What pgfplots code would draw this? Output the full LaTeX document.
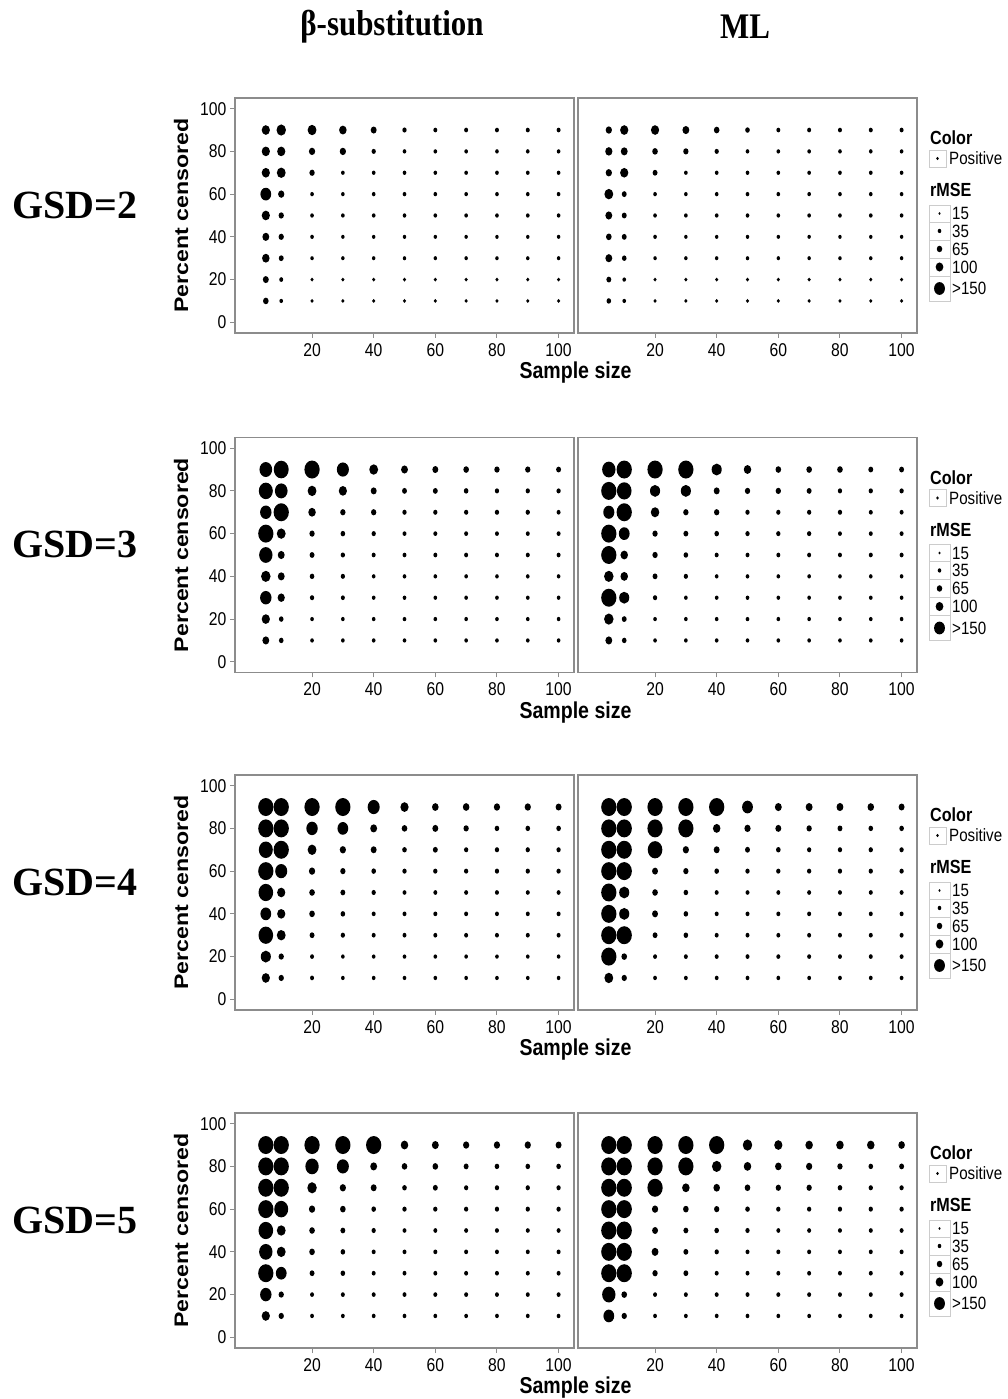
\documentclass[border=0pt]{standalone}
\usepackage{fontspec}
\setmainfont{Liberation Sans}[FakeStretch=0.85]
\newfontfamily\rotsf{Liberation Sans}[FakeStretch=1.18]
\newfontfamily\titlefont{Liberation Serif}[FakeStretch=0.86]
\newfontfamily\gsdfont{Liberation Serif}[FakeStretch=1.0]
\usepackage{pgfplots}
\usepackage{pgfplotstable}
\pgfplotsset{compat=1.18}

\pgfdeclareplotmark{ell}{\pgfpathellipse{\pgfpointorigin}{\pgfqpoint{\pgfplotmarksize}{0pt}}{\pgfqpoint{0pt}{1.18\pgfplotmarksize}}\pgfusepathqfill}

\newcommand\ticksize{\fontsize{18.5}{20}\selectfont}
\newcommand\labfont{\fontsize{23}{25}\selectfont\bfseries}
\newcommand\legtitle{\fontsize{19}{21}\selectfont\bfseries}
\newcommand\legtext{\fontsize{17.8}{19}\selectfont}

% rMSE; rows = percent censored, columns = sample size
\pgfplotstableread{
p  c5  c10 c20 c30 c40 c50 c60 c70 c80 c90 c100
90 108 128 118 97  72  46  41  41  41  41  41
80 108 108 77  77  46  36  36  36  36  36  36
70 108 118 62  36  36  36  36  36  36  36  36
60 149 77  36  36  36  36  36  36  36  36  36
50 108 62  36  36  36  36  36  36  36  36  36
40 87  62  36  33  33  33  33  33  33  33  33
30 97  56  33  33  33  33  33  33  33  33  33
20 72  41  31  31  31  31  31  31  31  31  31
10 67  36  31  31  31  31  31  31  31  31  31
}\tabAa
\pgfplotstableread{
p  c5  c10 c20 c30 c40 c50 c60 c70 c80 c90 c100
90 77  108 108 87  67  51  41  41  41  41  41
80 92  87  67  62  46  36  36  36  36  36  36
70 77  108 56  36  36  36  36  36  36  36  36
60 118 56  36  36  36  36  36  36  36  36  36
50 87  56  36  36  36  36  36  36  36  36  36
40 67  56  36  33  33  33  33  33  33  33  33
30 87  51  33  33  33  33  33  33  33  33  33
20 56  36  31  31  31  31  31  31  31  31  31
10 51  36  31  31  31  31  31  31  31  31  31
}\tabBa
\pgfplotstableread{
p  c5  c10 c20 c30 c40 c50 c60 c70 c80 c90 c100
90 179 215 220 169 118 87  72  67  62  62  56
80 200 179 118 108 72  56  56  51  46  46  46
70 159 220 97  62  62  46  46  46  46  46  41
60 220 118 62  51  46  41  41  41  41  41  41
50 190 87  56  46  41  41  41  41  41  41  41
40 128 87  51  46  36  36  36  36  36  36  36
30 159 92  46  41  36  36  36  36  36  36  36
20 108 51  36  36  36  36  36  36  36  36  36
10 87  51  36  36  36  36  36  36  36  36  36
}\tabAb
\pgfplotstableread{
p  c5  c10 c20 c30 c40 c50 c60 c70 c80 c90 c100
90 190 220 220 220 138 97  67  67  67  56  56
80 220 210 138 138 72  62  62  56  46  46  46
70 154 220 113 62  62  46  46  46  46  41  41
60 220 149 62  56  51  46  46  46  41  41  41
50 220 97  62  51  41  41  41  41  41  41  41
40 128 97  56  46  36  36  36  36  36  36  36
30 220 138 46  36  36  36  36  36  36  36  36
20 128 56  36  36  36  36  36  36  36  36  36
10 87  51  36  36  36  36  36  36  36  36  36
}\tabBb
\pgfplotstableread{
p  c5  c10 c20 c30 c40 c50 c60 c70 c80 c90 c100
90 220 220 220 220 169 108 82  82  77  77  72
80 220 220 159 149 87  67  72  62  51  51  51
70 200 220 118 77  72  51  56  46  46  46  46
60 220 169 77  62  51  46  46  46  46  46  46
50 210 108 67  56  46  41  41  41  41  41  41
40 149 108 67  51  41  41  41  41  41  41  41
30 210 118 56  46  41  41  41  41  41  41  41
20 138 62  41  36  36  36  36  36  36  36  36
10 108 62  41  36  36  36  36  36  36  36  36
}\tabAc
\pgfplotstableread{
p  c5  c10 c20 c30 c40 c50 c60 c70 c80 c90 c100
90 220 220 220 220 220 149 87  87  87  82  72
80 220 220 220 220 97  77  72  62  56  51  51
70 220 220 210 77  72  56  51  46  46  46  46
60 220 220 72  62  51  46  46  46  46  46  46
50 220 138 67  51  41  41  41  41  41  41  41
40 220 138 72  51  41  41  41  41  41  41  41
30 220 220 56  51  41  41  41  41  41  41  41
20 220 67  41  41  41  41  41  41  41  41  41
10 118 62  38  38  38  38  38  38  38  38  38
}\tabBc
\pgfplotstableread{
p  c5  c10 c20 c30 c40 c50 c60 c70 c80 c90 c100
90 220 220 220 220 220 97  87  77  77  77  72
80 220 220 190 169 87  67  67  56  51  51  51
70 220 220 128 77  72  51  56  46  46  46  46
60 220 200 77  67  51  46  46  46  46  46  46
50 210 118 67  56  46  41  41  41  41  41  41
40 190 118 67  51  41  41  41  41  41  41  41
30 220 149 56  51  41  41  41  41  41  41  41
20 159 62  41  41  41  41  41  41  41  41  41
10 108 62  38  38  38  38  38  38  38  38  38
}\tabAd
\pgfplotstableread{
p  c5  c10 c20 c30 c40 c50 c60 c70 c80 c90 c100
90 220 220 220 220 220 128 108 97  97  97  82
80 220 220 220 220 128 97  82  77  62  51  56
70 220 220 220 97  82  67  62  62  51  46  46
60 220 220 77  67  62  51  46  46  46  46  46
50 220 220 72  56  51  46  41  41  41  41  41
40 220 220 87  56  46  41  41  41  41  41  41
30 220 220 62  56  41  41  41  41  41  41  41
20 190 67  41  41  41  41  41  41  41  41  41
10 149 62  38  38  38  38  38  38  38  38  38
}\tabBd
\pgfplotstableread{
x    y    v
12.5 40.5 22
14.5 95.5 15
14.5 113  35
14.5 131  65
14.5 149  100
14.5 170.5 150
}\legtab

\pgfplotsset{
  panel/.style={scale only axis, width=339pt, height=235pt,
    xmin=-5, xmax=105, ymin=-5, ymax=105, anchor=south west,
    axis line style={draw=black!45, line width=1.3pt},
    tick style={draw=black!45, line width=1pt},
    tick align=outside, major tick length=5pt, tick pos=left,
    xtick={20,40,60,80,100}, ytick={0,20,40,60,80,100},
    tick label style={font=\ticksize, black},
    xticklabel style={yshift=-2pt},
    /pgf/number format/assume math mode=true},
  bubble/.style={scatter, only marks, mark=ell,
    point meta=explicit, point meta min=0, point meta max=1000,
    scatter/use mapped color={draw=black, fill=black},
    scatter/@pre marker code/.append code={%
      \pgfkeys{/pgf/fpu=false}%
      \pgfmathsetmacro\rr{(1.4+0.063*\pgfplotspointmetatransformed)/2}%
      \pgfsetplotmarksize{\rr pt}}},
}

\newcommand{\panel}[3]{%
\begin{axis}[panel, at={(#1)}, #3]
\pgfplotsinvokeforeach{5,10,20,30,40,50,60,70,80,90,100}{
  \addplot[bubble] table[x expr=##1, y=p, meta=c##1]{#2};
}
\end{axis}}

\newcommand{\legendbox}[1]{%
\begin{axis}[hide axis, scale only axis, width=80pt, height=200pt,
  xmin=0, xmax=80, ymin=0, ymax=200, y dir=reverse, clip=false,
  at={(925pt,#1)}, anchor=north west]
\draw[black!20, line width=0.8pt] (axis cs:4,32) rectangle (axis cs:21,49);
\draw[black!20, line width=0.8pt] (axis cs:4,87) rectangle (axis cs:25,104);
\draw[black!20, line width=0.8pt] (axis cs:4,104) rectangle (axis cs:25,122);
\draw[black!20, line width=0.8pt] (axis cs:4,122) rectangle (axis cs:25,140);
\draw[black!20, line width=0.8pt] (axis cs:4,140) rectangle (axis cs:25,158);
\draw[black!20, line width=0.8pt] (axis cs:4,158) rectangle (axis cs:25,183);
\addplot[bubble] table[x=x, y=y, meta=v]{\legtab};
\node[anchor=west, font=\legtitle, inner sep=0pt] at (axis cs:5,20) {Color};
\node[anchor=west, font=\legtext, inner sep=0pt] at (axis cs:24,40.5) {Positive};
\node[anchor=west, font=\legtitle, inner sep=0pt] at (axis cs:5,72) {rMSE};
\node[anchor=west, font=\legtext, inner sep=0pt] at (axis cs:27,95.5) {15};
\node[anchor=west, font=\legtext, inner sep=0pt] at (axis cs:27,113) {35};
\node[anchor=west, font=\legtext, inner sep=0pt] at (axis cs:27,131) {65};
\node[anchor=west, font=\legtext, inner sep=0pt] at (axis cs:27,149) {100};
\node[anchor=west, font=\legtext, inner sep=0pt] at (axis cs:27,170.5) {>150};
\end{axis}}

\newcommand{\rowlabels}[2]{% #1 = top of panel (pt, tikz y), #2 = GSD text
\node[font=\labfont] at (575.5pt,{#1-275pt}) {Sample size};
\node[font={\fontsize{19.6}{21}\rotsf\bfseries}, rotate=90] at (181pt,{#1-117.5pt}) {Percent censored};
\node[font={\fontsize{40}{42}\gsdfont\bfseries}] at (75pt,{#1-107pt}) {#2};
}

\begin{document}
\begin{tikzpicture}
\path[use as bounding box] (0,0) rectangle (1008pt,1399pt);
\node[font={\fontsize{36}{38}\titlefont\bfseries}] at (392pt,1372pt) {β-substitution};
\node[font={\fontsize{36}{38}\titlefont\bfseries}] at (745pt,1372pt) {ML};

% row 1 (GSD=2): panel top at 1301pt
\panel{235pt,1066pt}{\tabAa}{}
\panel{578pt,1066pt}{\tabBa}{ytick=\empty}
\legendbox{1281pt}
\rowlabels{1301pt}{GSD=2}

% row 2 (GSD=3)
\panel{235pt,726.5pt}{\tabAb}{}
\panel{578pt,726.5pt}{\tabBb}{ytick=\empty}
\legendbox{941.5pt}
\rowlabels{961.5pt}{GSD=3}

% row 3 (GSD=4)
\panel{235pt,389pt}{\tabAc}{}
\panel{578pt,389pt}{\tabBc}{ytick=\empty}
\legendbox{604pt}
\rowlabels{624pt}{GSD=4}

% row 4 (GSD=5)
\panel{235pt,51pt}{\tabAd}{}
\panel{578pt,51pt}{\tabBd}{ytick=\empty}
\legendbox{266pt}
\rowlabels{286pt}{GSD=5}
\end{tikzpicture}
\end{document}
